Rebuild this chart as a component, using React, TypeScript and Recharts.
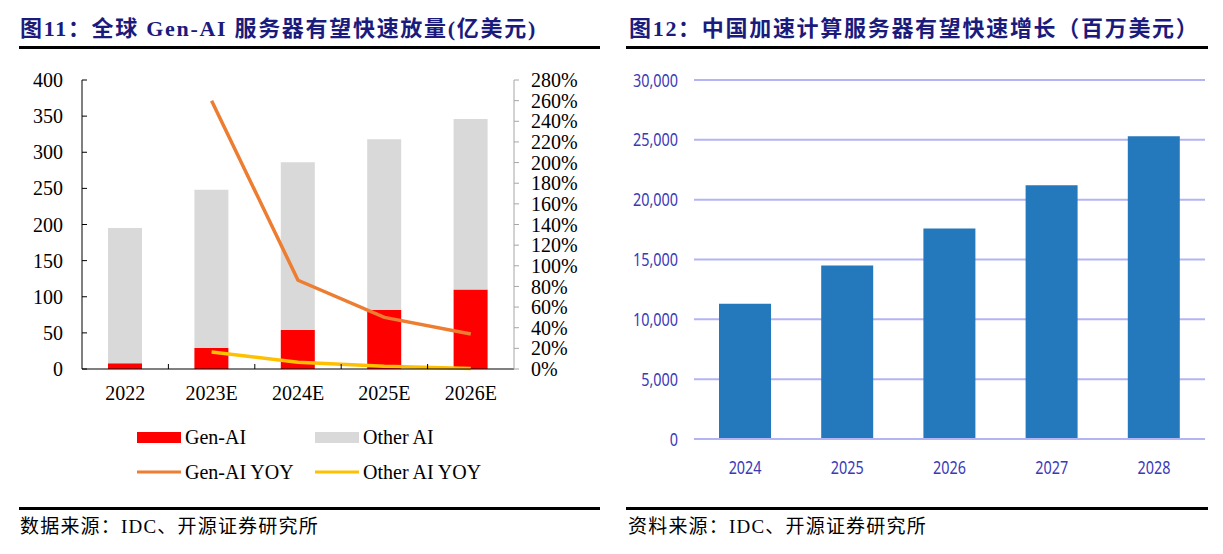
import React from "react";
import { ComposedChart, BarChart, Bar, Line, XAxis, YAxis, CartesianGrid } from "recharts";

// left chart: global Gen-AI servers (100M USD)
const leftYears = ["2022", "2023E", "2024E", "2025E", "2026E"];
const genAI = [8, 29, 54, 82, 110];
const otherAI = [187, 219, 232, 236, 236];
const genAIYoy = [null, 260, 86, 50, 34];
const otherAIYoy = [null, 16.5, 6.5, 2.6, 0.6];
const leftTicks = [0, 50, 100, 150, 200, 250, 300, 350, 400];
const pctTicks = [0, 20, 40, 60, 80, 100, 120, 140, 160, 180, 200, 220, 240, 260, 280];
const leftNames = ["Gen-AI", "Other AI", "Gen-AI YOY", "Other AI YOY"];

// right chart: China accelerated servers (million USD)
const rightYears = ["2024", "2025", "2026", "2027", "2028"];
const chinaServers = [11300, 14500, 17600, 21200, 25300];
const rightTicks = [0, 5000, 10000, 15000, 20000, 25000, 30000];

const leftData = leftYears.map((year, i) => ({
  year,
  gen: genAI[i],
  other: otherAI[i],
  genYoy: genAIYoy[i],
  otherYoy: otherAIYoy[i],
}));
const rightData = rightYears.map((year, i) => ({ year, value: chinaServers[i] }));

const SERIF = "'Liberation Serif', 'Noto Sans CJK SC', serif";
const SANS = "'Noto Sans', sans-serif";
const NAVY = "#1b1b7d";
const RED = "#ff0000";
const GREY = "#d9d9d9";
const ORANGE = "#ed7d31";
const YELLOW = "#ffc000";
const BLUE = "#2479bc";
const GRID = "#b4b4f5";
const TICKBLUE = "#3a3ab8";

const LW = 612;
const LEFT_AXIS_W = 82;
const RIGHT_AXIS_W = 98;
const BAND = (LW - LEFT_AXIS_W - RIGHT_AXIS_W) / leftYears.length;

const LeftXTick = (props: any) => {
  const { x, y, payload, index } = props;
  return (
    <g>
      <text x={x} y={y + 24} textAnchor="middle" dominantBaseline="central" fontFamily={SERIF} fontSize={20} fill="#000">
        {payload.value}
      </text>
      {index < leftYears.length - 1 && (
        <line x1={x + BAND / 2} x2={x + BAND / 2} y1={y} y2={y - 5} stroke="#000" strokeWidth={1} />
      )}
    </g>
  );
};

// condensed-looking labels for the right chart
const NarrowTick = (props: any) => {
  const { x, y, payload, anchor, dy, fmt } = props;
  const label = fmt ? fmt(payload.value) : payload.value;
  return (
    <text
      transform={`translate(${x},${y + (dy || 0)}) scale(0.8,1)`}
      textAnchor={anchor}
      dominantBaseline="central"
      fontFamily={SANS}
      fontSize={18}
      fill={TICKBLUE}
    >
      {label}
    </text>
  );
};

const titleStyle: React.CSSProperties = {
  position: "absolute",
  top: 14,
  fontFamily: SERIF,
  fontWeight: "bold",
  fontSize: 22,
  letterSpacing: 1.7,
  lineHeight: "30px",
  color: NAVY,
  whiteSpace: "nowrap",
};
const sourceStyle: React.CSSProperties = {
  position: "absolute",
  top: 514,
  fontFamily: SERIF,
  fontSize: 19,
  letterSpacing: 1.2,
  lineHeight: "26px",
  color: "#000",
  whiteSpace: "nowrap",
};
const rule = (left: number, width: number, top: number): React.CSSProperties => ({
  position: "absolute",
  left,
  width,
  top,
  height: 2.5,
  background: "#000",
});

export default function App() {
  return (
    <div style={{ position: "absolute", left: 0, top: 0, width: 1223, height: 554, background: "#fff", overflow: "hidden" }}>
      <div style={{ ...titleStyle, left: 20 }}>图11：全球 Gen-AI 服务器有望快速放量(亿美元)</div>
      <div style={rule(19, 581, 46)} />
      <div style={{ ...titleStyle, left: 629 }}>图12：中国加速计算服务器有望快速增长（百万美元）</div>
      <div style={rule(626, 582, 46)} />

      <div style={{ position: "absolute", left: 0, top: 0 }}>
        <ComposedChart width={LW} height={420} data={leftData} margin={{ top: 80, right: 0, bottom: 21, left: 0 }}>
          <XAxis
            dataKey="year"
            height={30}
            tickLine={false}
            tickSize={0}
            tickMargin={0}
            axisLine={{ stroke: "#000" }}
            tick={<LeftXTick />}
            interval={0}
          />
          <YAxis
            yAxisId="left"
            width={LEFT_AXIS_W}
            domain={[0, 400]}
            ticks={leftTicks}
            interval={0}
            axisLine={{ stroke: "#000" }}
            tickLine={{ stroke: "#000" }}
            tickSize={-5}
            tickMargin={24}
            tick={{ fontFamily: SERIF, fontSize: 20, fill: "#000" }}
          />
          <YAxis
            yAxisId="right"
            orientation="right"
            width={RIGHT_AXIS_W}
            domain={[0, 280]}
            ticks={pctTicks}
            interval={0}
            axisLine={{ stroke: "#a6a6a6" }}
            tickLine={{ stroke: "#a6a6a6" }}
            tickSize={5}
            tickMargin={12}
            tickFormatter={(v: number) => `${v}%`}
            tick={{ fontFamily: SERIF, fontSize: 20, fill: "#000", textAnchor: "start" }}
          />
          <Bar yAxisId="left" dataKey="gen" name={leftNames[0]} stackId="a" fill={RED} barSize={34} isAnimationActive={false} />
          <Bar yAxisId="left" dataKey="other" name={leftNames[1]} stackId="a" fill={GREY} barSize={34} isAnimationActive={false} />
          <Line yAxisId="right" dataKey="genYoy" name={leftNames[2]} stroke={ORANGE} strokeWidth={3.5} dot={false} isAnimationActive={false} />
          <Line yAxisId="right" dataKey="otherYoy" name={leftNames[3]} stroke={YELLOW} strokeWidth={3.5} dot={false} isAnimationActive={false} />
        </ComposedChart>
      </div>

      <svg style={{ position: "absolute", left: 0, top: 420 }} width={LW} height={70}>
        <rect x={137} y={12} width={44} height={11} fill={RED} />
        <text x={185} y={17} dominantBaseline="central" fontFamily={SERIF} fontSize={20}>{leftNames[0]}</text>
        <rect x={315} y={12} width={44} height={11} fill={GREY} />
        <text x={363} y={17} dominantBaseline="central" fontFamily={SERIF} fontSize={20}>{leftNames[1]}</text>
        <line x1={137} x2={181} y1={52} y2={52} stroke={ORANGE} strokeWidth={3} />
        <text x={185} y={52} dominantBaseline="central" fontFamily={SERIF} fontSize={20}>{leftNames[2]}</text>
        <line x1={315} x2={359} y1={52} y2={52} stroke={YELLOW} strokeWidth={3} />
        <text x={363} y={52} dominantBaseline="central" fontFamily={SERIF} fontSize={20}>{leftNames[3]}</text>
      </svg>

      <div style={{ position: "absolute", left: 612, top: 0 }}>
        <BarChart width={611} height={500} data={rightData} margin={{ top: 80, right: 18, bottom: 31, left: 0 }}>
          <CartesianGrid vertical={false} stroke={GRID} strokeWidth={2} />
          <XAxis
            dataKey="year"
            height={30}
            tickLine={false}
            tickSize={0}
            tickMargin={0}
            axisLine={{ stroke: GRID, strokeWidth: 2 }}
            tick={<NarrowTick anchor="middle" dy={28} />}
            interval={0}
          />
          <YAxis
            width={82}
            domain={[0, 30000]}
            ticks={rightTicks}
            interval={0}
            axisLine={false}
            tickLine={false}
            tickSize={0}
            tickMargin={16}
            tick={<NarrowTick anchor="end" fmt={(v: number) => v.toLocaleString("en-US")} />}
          />
          <Bar dataKey="value" fill={BLUE} barSize={52} isAnimationActive={false} />
        </BarChart>
      </div>

      <div style={rule(19, 581, 507)} />
      <div style={{ ...sourceStyle, left: 20 }}>数据来源：IDC、开源证券研究所</div>
      <div style={rule(626, 582, 507)} />
      <div style={{ ...sourceStyle, left: 628 }}>资料来源：IDC、开源证券研究所</div>
    </div>
  );
}
